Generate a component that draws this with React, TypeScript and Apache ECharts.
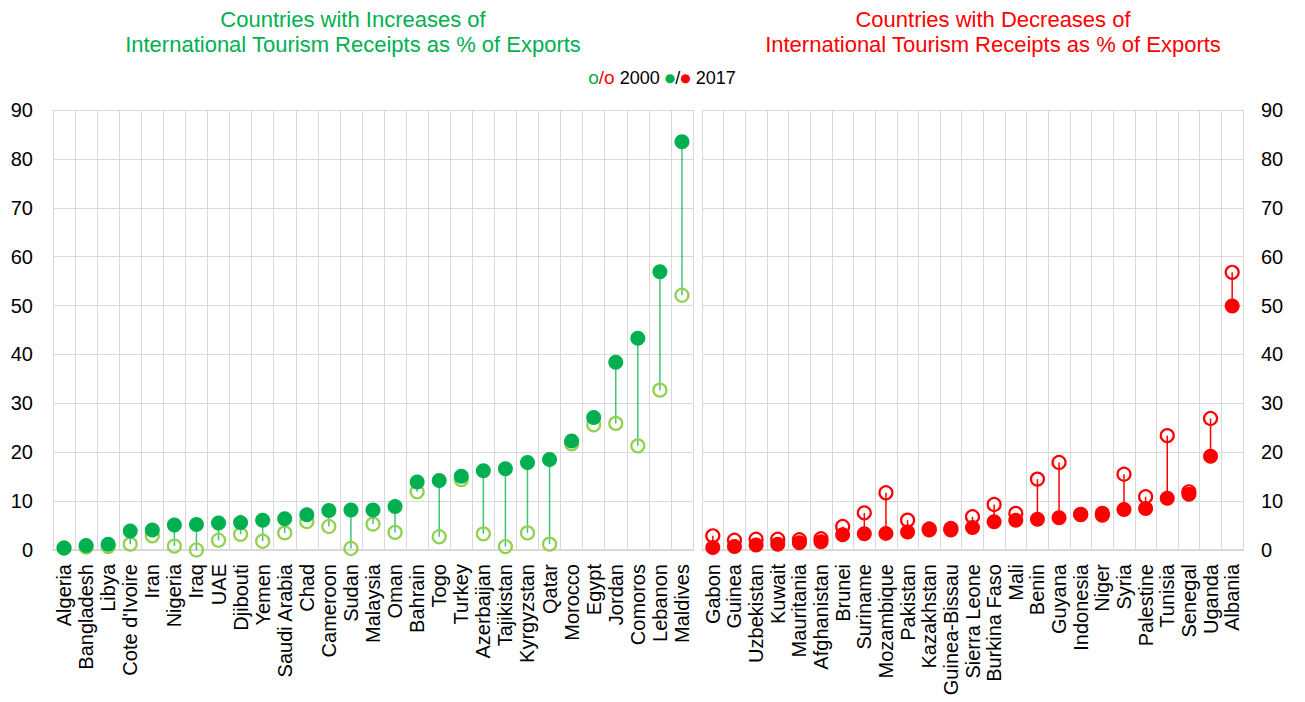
import React, { useEffect, useRef } from "react";
import * as echarts from "echarts";

const incCountries = ["Algeria","Bangladesh","Libya","Cote d'Ivoire","Iran","Nigeria","Iraq","UAE","Djibouti","Yemen","Saudi Arabia","Chad","Cameroon","Sudan","Malaysia","Oman","Bahrain","Togo","Turkey","Azerbaijan","Tajikistan","Kyrgyzstan","Qatar","Morocco","Egypt","Jordan","Comoros","Lebanon","Maldives"];
const inc2000 = [0.4,0.6,0.7,1.2,2.9,0.8,0.0,2.0,3.2,1.8,3.5,5.8,4.8,0.3,5.3,3.6,11.9,2.7,14.4,3.3,0.7,3.5,1.2,21.7,25.6,25.9,21.3,32.7,52.1];
const inc2017 = [0.4,0.9,1.2,3.9,4.1,5.1,5.2,5.5,5.6,6.1,6.4,7.2,8.1,8.2,8.2,8.9,13.9,14.2,15.1,16.2,16.6,17.9,18.5,22.3,27.1,38.4,43.3,56.9,83.5];

const decCountries = ["Gabon","Guinea","Uzbekistan","Kuwait","Mauritania","Afghanistan","Brunei","Suriname","Mozambique","Pakistan","Kazakhstan","Guinea-Bissau","Sierra Leone","Burkina Faso","Mali","Benin","Guyana","Indonesia","Niger","Syria","Palestine","Tunisia","Senegal","Uganda","Albania"];
const dec2000 = [2.9,2.0,2.2,2.2,2.1,2.3,4.8,7.6,11.7,6.1,4.3,4.4,6.8,9.3,7.5,14.5,17.9,7.3,7.5,15.5,10.9,23.4,11.9,26.9,56.8];
const dec2017 = [0.5,0.7,1.0,1.2,1.5,1.7,3.1,3.3,3.4,3.7,4.1,4.1,4.6,5.8,6.1,6.3,6.6,7.2,7.1,8.3,8.5,10.6,11.4,19.2,49.9];

const yTicks = [0, 10, 20, 30, 40, 50, 60, 70, 80, 90];

const FONT = "'Liberation Sans', Arial, sans-serif";
const GREEN = "#00B050";
const LGREEN = "#92D050";
const RED = "#FF0000";
const GRID_C = "#d9d9d9";

function segSeries(cats: string[], a: number[], b: number[], idx: number, color: string, opacity: number) {
  return {
    type: "custom",
    xAxisIndex: idx,
    yAxisIndex: idx,
    data: cats.map((_, i) => [i, a[i], b[i]]),
    encode: { x: 0, y: [1, 2] },
    z: 2,
    renderItem: (params: any, api: any) => {
      const p1 = api.coord([api.value(0), api.value(1)]);
      const p2 = api.coord([api.value(0), api.value(2)]);
      return {
        type: "line",
        shape: { x1: p1[0], y1: p1[1], x2: p2[0], y2: p2[1] },
        style: { stroke: color, lineWidth: 1.5, opacity },
      };
    },
  };
}

export default function App() {
  const ref = useRef<HTMLDivElement>(null);
  useEffect(() => {
    if (!ref.current) return;
    const chart = echarts.init(ref.current, null, { renderer: "svg" });
    const xAxisBase = (cats: string[], gi: number) => ({
      type: "category",
      gridIndex: gi,
      data: cats,
      boundaryGap: true,
      axisLine: { show: true, lineStyle: { color: GRID_C, width: 2 } },
      axisTick: { show: false },
      splitLine: { show: true, interval: 0, lineStyle: { color: GRID_C, width: 1 } },
      axisLabel: { interval: 0, rotate: 90, fontSize: 20, color: "#000", fontFamily: FONT, margin: 14 },
    });
    const yAxisBase = (gi: number, pos: string, align: string, margin: number) => ({
      type: "value",
      gridIndex: gi,
      position: pos,
      min: yTicks[0],
      max: yTicks[yTicks.length - 1],
      interval: 10,
      axisLine: { show: false },
      axisTick: { show: false },
      splitLine: { show: true, lineStyle: { color: GRID_C, width: 1 } },
      axisLabel: { fontSize: 20, color: "#000", fontFamily: FONT, margin, align },
    });
    chart.setOption({
      animation: false,
      backgroundColor: "#fff",
      grid: [
        { left: 53, right: 1305 - 693, top: 110, bottom: 702 - 550 },
        { left: 702, right: 1305 - 1243, top: 110, bottom: 702 - 550 },
      ],
      xAxis: [xAxisBase(incCountries, 0), xAxisBase(decCountries, 1)],
      yAxis: [yAxisBase(0, "left", "right", 20), yAxisBase(1, "right", "left", 18)],
      graphic: [
        {
          type: "text",
          x: 353,
          y: 7,
          style: {
            text: "Countries with Increases of\nInternational Tourism Receipts as % of Exports",
            fill: GREEN,
            font: `22px ${FONT}`,
            textAlign: "center",
            lineHeight: 25,
          },
        },
        {
          type: "text",
          x: 993,
          y: 7,
          style: {
            text: "Countries with Decreases of\nInternational Tourism Receipts as % of Exports",
            fill: RED,
            font: `22px ${FONT}`,
            textAlign: "center",
            lineHeight: 25,
          },
        },
        {
          type: "text",
          x: 662,
          y: 68,
          style: {
            text: "{g|o}{r|/o}{k| 2000 }{gd|●}{k|/}{rd|●}{k| 2017}",
            textAlign: "center",
            font: `18px ${FONT}`,
            rich: {
              g: { fill: GREEN, fontSize: 19, fontFamily: FONT },
              r: { fill: RED, fontSize: 19, fontFamily: FONT },
              k: { fill: "#000", fontSize: 18, fontFamily: FONT },
              gd: { fill: GREEN, fontSize: 12, fontFamily: "'DejaVu Sans', sans-serif" },
              rd: { fill: RED, fontSize: 12, fontFamily: "'DejaVu Sans', sans-serif" },
            },
          },
        },
      ],
      series: [
        segSeries(incCountries, inc2000, inc2017, 0, GREEN, 0.75),
        {
          type: "scatter",
          xAxisIndex: 0,
          yAxisIndex: 0,
          data: inc2000,
          symbol: "circle",
          symbolSize: 13,
          z: 3,
          itemStyle: { color: "rgba(255,255,255,0)", borderColor: LGREEN, borderWidth: 2.2, opacity: 1 },
        },
        {
          type: "scatter",
          xAxisIndex: 0,
          yAxisIndex: 0,
          data: inc2017,
          symbol: "circle",
          symbolSize: 15,
          z: 4,
          itemStyle: { color: GREEN, opacity: 1 },
        },
        segSeries(decCountries, dec2000, dec2017, 1, RED, 1),
        {
          type: "scatter",
          xAxisIndex: 1,
          yAxisIndex: 1,
          data: dec2017,
          symbol: "circle",
          symbolSize: 15,
          z: 3,
          itemStyle: { color: RED, opacity: 1 },
        },
        {
          type: "scatter",
          xAxisIndex: 1,
          yAxisIndex: 1,
          data: dec2000,
          symbol: "circle",
          symbolSize: 13,
          z: 4,
          itemStyle: { color: "rgba(255,255,255,0)", borderColor: RED, borderWidth: 2.2, opacity: 1 },
        },
      ],
    });
    return () => chart.dispose();
  }, []);
  return (
    <div
      ref={ref}
      style={{ position: "absolute", left: 0, top: 0, width: 1305, height: 702 }}
    />
  );
}
